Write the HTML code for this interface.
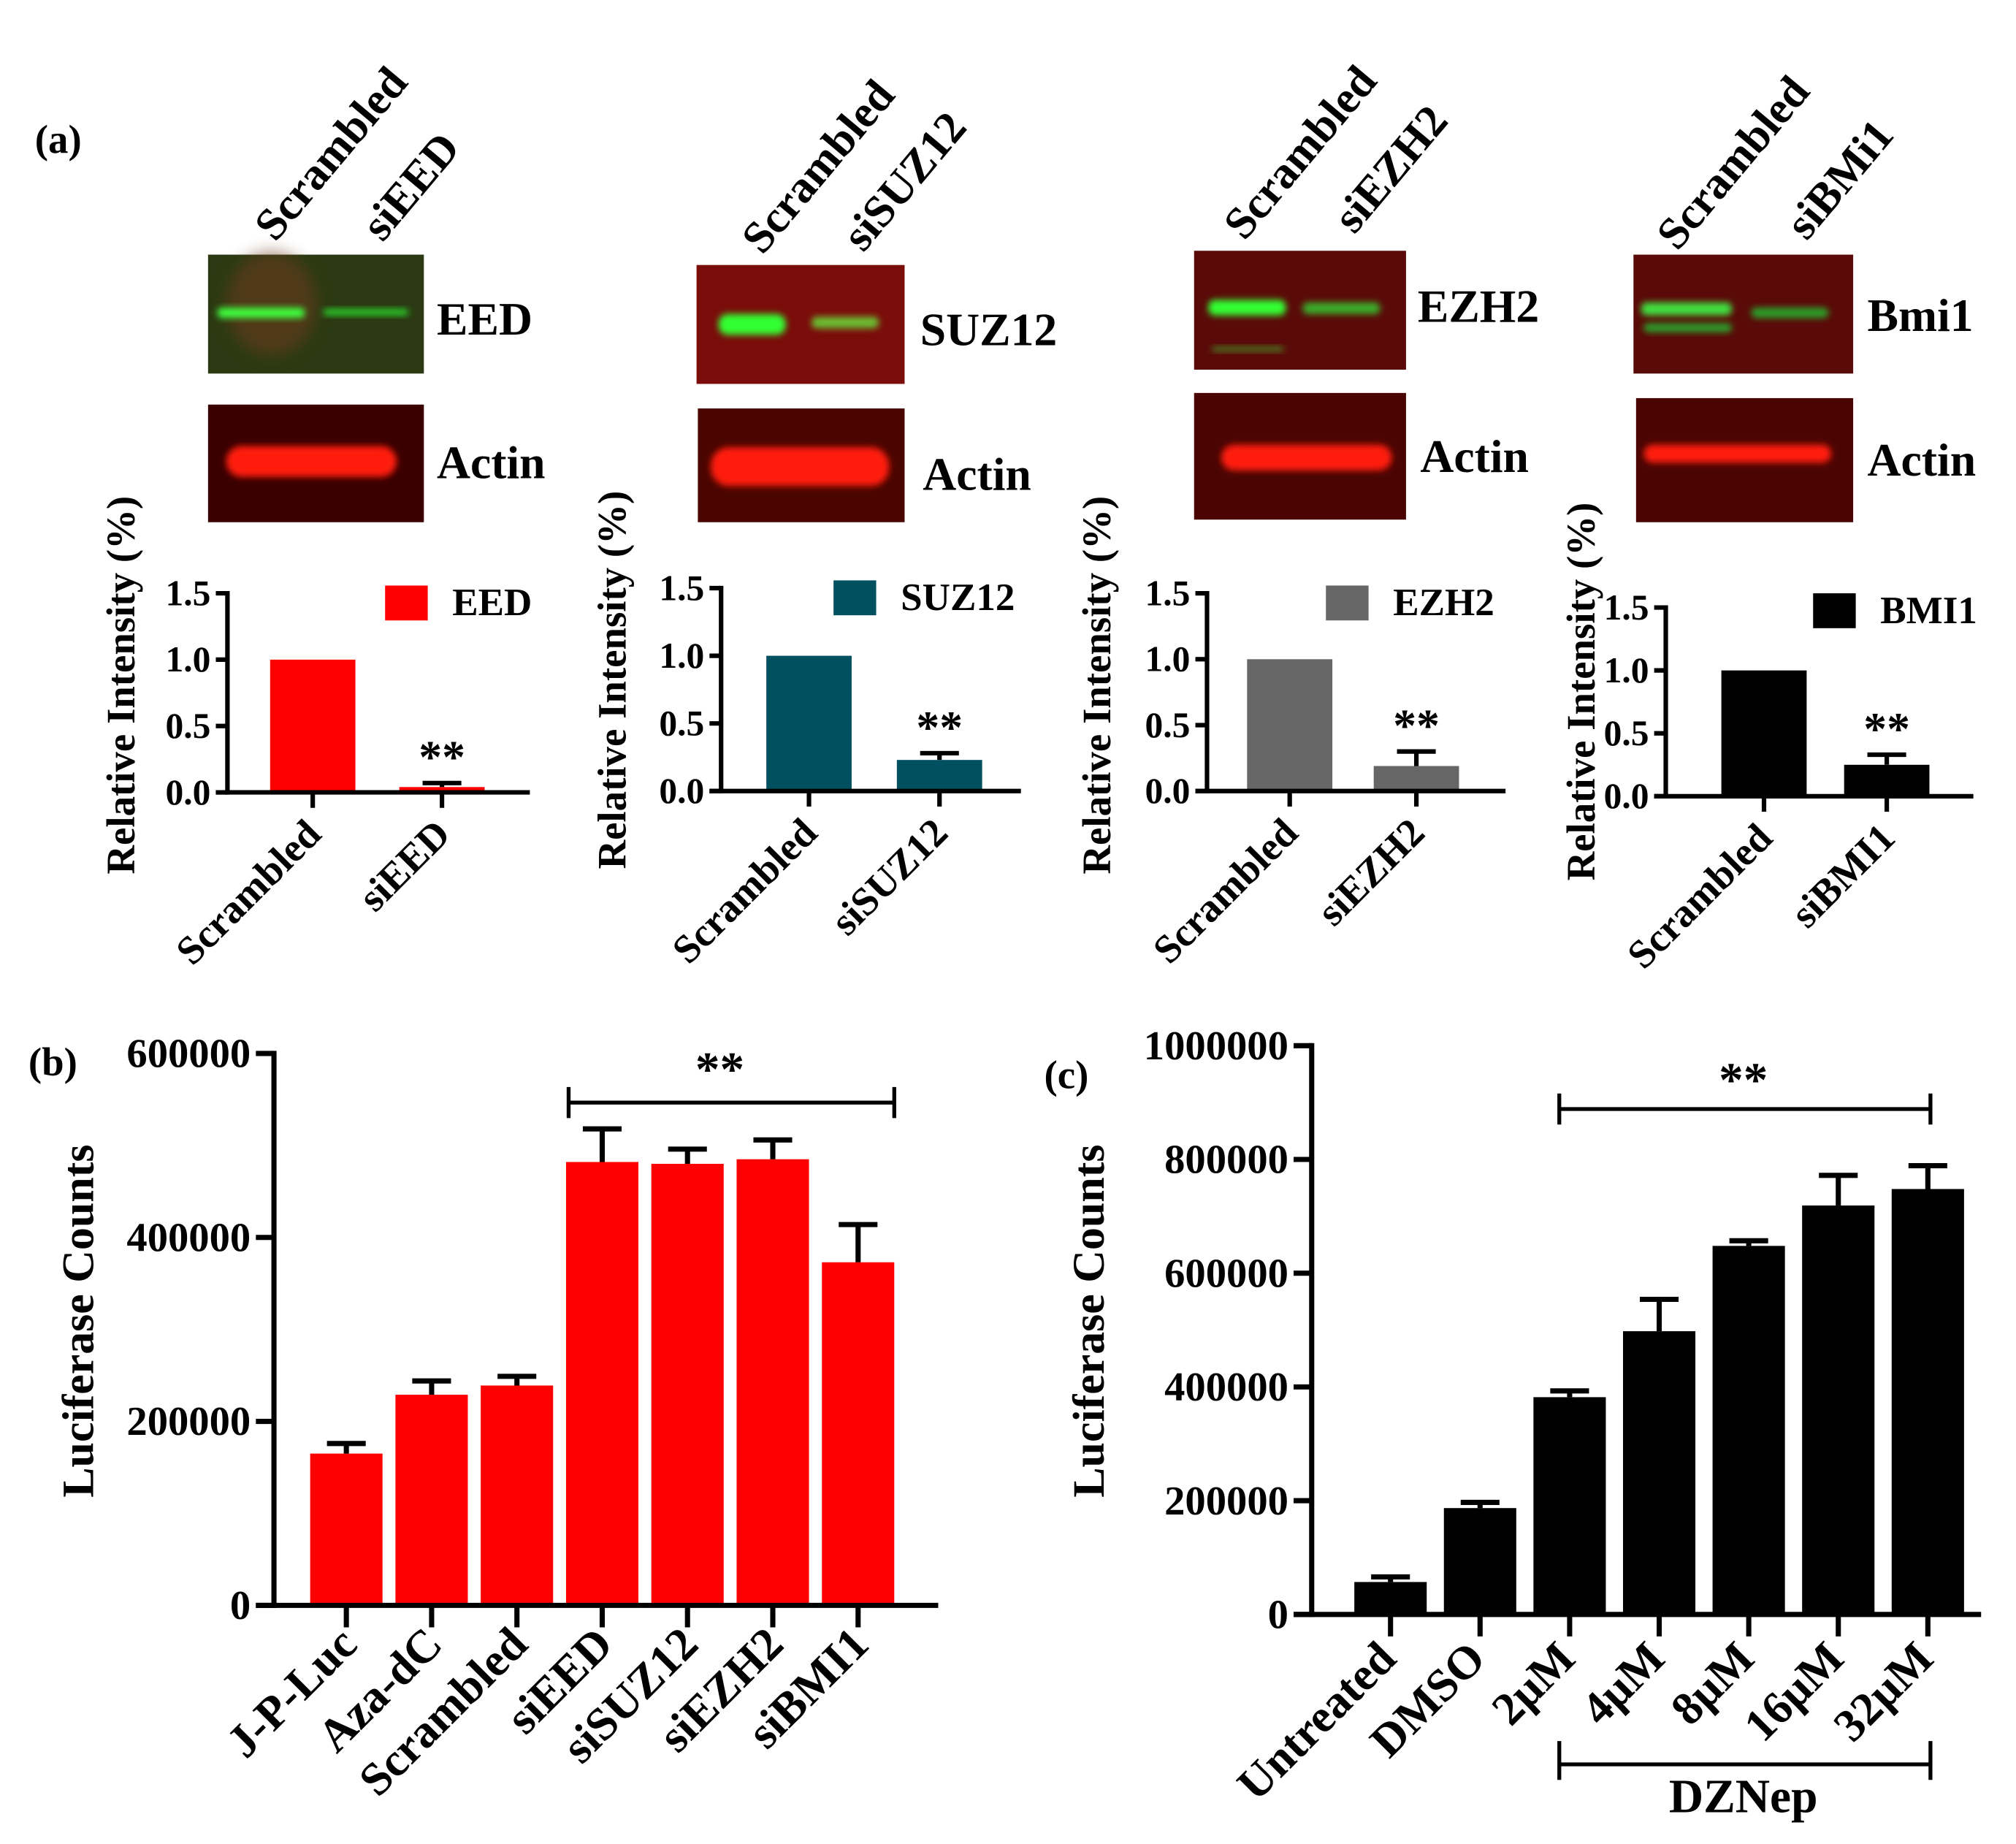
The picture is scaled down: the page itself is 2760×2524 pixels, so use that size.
<!DOCTYPE html>
<html><head><meta charset="utf-8">
<style>
html,body{margin:0;padding:0;background:#fff;}
svg{display:block;}
text{font-family:"Liberation Serif",serif;font-weight:bold;fill:#000;}
</style></head>
<body>
<svg id="fig" width="2760" height="2524" viewBox="0 0 1560 1426.6" xmlns="http://www.w3.org/2000/svg">
<defs>
<filter id="blur2" x="-20%" y="-50%" width="140%" height="200%"><feGaussianBlur stdDeviation="2.5"/></filter>
<filter id="blur5" x="-30%" y="-50%" width="160%" height="200%"><feGaussianBlur stdDeviation="6"/></filter>
</defs>
<text x="27" y="118" font-size="31">(a)</text>
<text x="22" y="832" font-size="31">(b)</text>
<text x="808" y="842" font-size="31">(c)</text>

<g>
<rect x="161" y="197" width="167" height="92" fill="#2b3a12"/>
<ellipse cx="210" cy="235" rx="35" ry="40" fill="#6a3a1a" opacity="0.6" filter="url(#blur5)"/>
<rect x="168" y="238" width="68" height="8" rx="4" fill="#3cff3c" filter="url(#blur2)"/>
<rect x="250" y="239" width="66" height="5" rx="3" fill="#2ad02a" filter="url(#blur2)"/>
</g>
<g>
<rect x="161" y="313" width="167" height="91" fill="#3a0000"/>
<rect x="175" y="345" width="132" height="24" rx="12" fill="#ff1a0a" filter="url(#blur2)"/>
</g>
<g>
<rect x="539" y="205" width="161" height="92" fill="#7a0c0a"/>
<rect x="556" y="243" width="52" height="16" rx="7" fill="#30ff30" filter="url(#blur2)"/>
<rect x="628" y="245" width="52" height="9" rx="4" fill="#6abf30" filter="url(#blur2)"/>
</g>
<g>
<rect x="540" y="316" width="160" height="88" fill="#4a0500"/>
<rect x="550" y="346" width="138" height="30" rx="14" fill="#ff1a0a" filter="url(#blur2)"/>
</g>
<g>
<rect x="924" y="194" width="164" height="92" fill="#5a0a08"/>
<rect x="935" y="232" width="60" height="12" rx="5" fill="#30ff30" filter="url(#blur2)"/>
<rect x="1008" y="234" width="60" height="9" rx="4" fill="#3aae2a" filter="url(#blur2)"/>
<rect x="938" y="268" width="55" height="4" fill="#4a7a20" filter="url(#blur2)"/>
</g>
<g>
<rect x="924" y="304" width="164" height="98" fill="#4a0503"/>
<rect x="945" y="344" width="132" height="20" rx="10" fill="#ff1a0a" filter="url(#blur2)"/>
</g>
<g>
<rect x="1264" y="197" width="170" height="92" fill="#5a0a08"/>
<rect x="1270" y="234" width="70" height="10" rx="4" fill="#40e040" filter="url(#blur2)"/>
<rect x="1272" y="250" width="68" height="7" rx="3" fill="#2ca02a" filter="url(#blur2)"/>
<rect x="1355" y="238" width="60" height="8" rx="4" fill="#2ca02a" filter="url(#blur2)"/>
</g>
<g>
<rect x="1266" y="308" width="168" height="96" fill="#4a0503"/>
<rect x="1272" y="344" width="145" height="14" rx="7" fill="#ff1a0a" filter="url(#blur2)"/>
</g>

<g font-size="36">
<text x="338" y="259">EED</text>
<text x="338" y="370">Actin</text>
<text x="712" y="267">SUZ12</text>
<text x="714" y="379">Actin</text>
<text x="1097" y="249">EZH2</text>
<text x="1099" y="365">Actin</text>
<text x="1445" y="256">Bmi1</text>
<text x="1445" y="368">Actin</text>
</g>
<g font-size="35">
<text transform="translate(213,188) rotate(-50)">Scrambled</text>
<text transform="translate(296,188) rotate(-50)">siEED</text>
<text transform="translate(590,198) rotate(-50)">Scrambled</text>
<text transform="translate(668,196) rotate(-50)">siSUZ12</text>
<text transform="translate(963,187) rotate(-50)">Scrambled</text>
<text transform="translate(1048,182) rotate(-50)">siEZH2</text>
<text transform="translate(1298,195) rotate(-50)">Scrambled</text>
<text transform="translate(1398,187) rotate(-50)">siBMi1</text>
</g>
<g id="charts"></g>
</svg>
<script>
// ---- Panel (a) data ----
const aCategories1 = ["Scrambled", "siEED"];
const aValues1 = [1.0, 0.04];
const aErrors1 = [0, 0.03];
const aCategories2 = ["Scrambled", "siSUZ12"];
const aValues2 = [1.0, 0.23];
const aErrors2 = [0, 0.05];
const aCategories3 = ["Scrambled", "siEZH2"];
const aValues3 = [1.0, 0.19];
const aErrors3 = [0, 0.11];
const aCategories4 = ["Scrambled", "siBMI1"];
const aValues4 = [1.0, 0.25];
const aErrors4 = [0, 0.08];
const aTicks = [0, 0.5, 1.0, 1.5];
const aTickLabels = ["0.0", "0.5", "1.0", "1.5"];
// ---- Panel (b) data ----
const bCategories = ["J-P-Luc", "Aza-dC", "Scrambled", "siEED", "siSUZ12", "siEZH2", "siBMI1"];
const bValues = [165000, 229000, 239000, 482000, 480000, 485000, 373000];
const bErrors = [11000, 15000, 10000, 36000, 16000, 21000, 41000];
const bTicks = [0, 200000, 400000, 600000];
const bTickLabels = ["0", "200000", "400000", "600000"];
// ---- Panel (c) data ----
const cCategories = ["Untreated", "DMSO", "2\u00b5M", "4\u00b5M", "8\u00b5M", "16\u00b5M", "32\u00b5M"];
const cValues = [57000, 187000, 382000, 498000, 648000, 719000, 748000];
const cErrors = [9000, 10000, 11000, 56000, 9000, 53000, 41000];
const cTicks = [0, 200000, 400000, 600000, 800000, 1000000];
const cTickLabels = ["0", "200000", "400000", "600000", "800000", "1000000"];

const NS = "http://www.w3.org/2000/svg";
const root = document.getElementById("charts");
function el(tag, attrs, parent, txt) {
  const e = document.createElementNS(NS, tag);
  for (const k in attrs) e.setAttribute(k, attrs[k]);
  if (txt !== undefined) e.textContent = txt;
  (parent || root).appendChild(e);
  return e;
}

function drawChart(cfg, cats, vals, errs, ticks, tickLabels) {
  const g = el("g", {});
  
  
  const yScale = v => cfg.y0 - (v - cfg.min) / (cfg.max - cfg.min) * (cfg.y0 - cfg.y1);
  const xScale = i => cfg.firstX + i * cfg.step;
  cats.forEach((c, i) => {
    const cx = xScale(i), top = yScale(vals[i]);
    const r = el("rect", {x: cx - cfg.barW / 2, y: top, width: cfg.barW, height: cfg.y0 - top, fill: cfg.color}, g);
    
    
    if (errs[i] > 0) {
      const et = yScale(vals[i] + errs[i]);
      const eb = el("path", {d: `M${cx} ${top} V${et} M${cx - cfg.capW / 2} ${et} H${cx + cfg.capW / 2}`, stroke: "#000", "stroke-width": cfg.lw, fill: "none"}, g);
      
      
    }
    const t = el("line", {x1: cx, x2: cx, y1: cfg.y0, y2: cfg.y0 + cfg.tickLen, stroke: "#000", "stroke-width": cfg.lw}, g);
    
    
    const lab = el("text", {"text-anchor": "end", "font-size": cfg.xfs, transform: `translate(${cx + cfg.xlDx},${cfg.y0 + cfg.xlDy}) rotate(-45)`}, g, c);
    
    
  });
  const ya = el("line", {x1: cfg.ax, x2: cfg.ax, y1: cfg.y1 - cfg.lw / 2, y2: cfg.y0 + cfg.lw / 2, stroke: "#000", "stroke-width": cfg.lw}, g);
  
  
  const xa = el("line", {x1: cfg.ax - (cfg.yTickLen || 0), x2: cfg.axEnd, y1: cfg.y0, y2: cfg.y0, stroke: "#000", "stroke-width": cfg.lw}, g);
  
  
  ticks.forEach((v, i) => {
    const y = yScale(v);
    const tk = el("line", {x1: cfg.ax - cfg.yTickLen, x2: cfg.ax, y1: y, y2: y, stroke: "#000", "stroke-width": cfg.lw}, g);
    
    
    const tl = el("text", {x: cfg.ax - cfg.yTickLen - 4, y: y + cfg.yfs * 0.33, "text-anchor": "end", "font-size": cfg.yfs}, g, tickLabels[i]);
    
    
  });
  const yt = el("text", {"text-anchor": "middle", "font-size": cfg.ytfs, transform: `translate(${cfg.ytX},${cfg.ytY}) rotate(-90)`}, g, cfg.yTitle);
  
  
  return {g, xScale, yScale};
}

function chartA(name, cats, vals, errs, color, L) {
  const cfg = {name, color, ax: L.ax, axEnd: L.axEnd, y0: L.y0, y1: L.y1, min: 0, max: 1.5,
    firstX: L.x0, step: L.step, barW: 66, capW: 30, lw: 3.5, tickLen: 12, yTickLen: 9,
    xfs: 31, yfs: 28, ytfs: 31, xlDx: 8, xlDy: 34, ytX: L.ytX, ytY: L.ytY, yTitle: "Relative Intensity (%)"};
  const c = drawChart(cfg, cats, vals, errs, aTicks, aTickLabels);
  const lg = el("rect", {x: L.lgX, y: L.lgY, width: 33, height: 27, fill: color}, c.g);
  
  
  const lt = el("text", {x: L.lgX + 52, y: L.lgY + 23, "font-size": 30}, c.g, L.lgText);
  
  
  const st = el("text", {x: c.xScale(1), y: c.yScale(vals[1] + errs[1]) - 8, "text-anchor": "middle", "font-size": 36}, c.g, "**");
  
  
}
chartA("chart-eed", aCategories1, aValues1, aErrors1, "#ff0000", {ax:176, axEnd:410, y0:613, y1:459, x0:242, step:100, ytX:104, ytY:530, lgX:298, lgY:453, lgText:"EED"});
chartA("chart-suz12", aCategories2, aValues2, aErrors2, "#00505f", {ax:558, axEnd:790, y0:612, y1:455, x0:626, step:101, ytX:484, ytY:526, lgX:645, lgY:449, lgText:"SUZ12"});
chartA("chart-ezh2", aCategories3, aValues3, aErrors3, "#666666", {ax:934, axEnd:1165, y0:612, y1:459, x0:998, step:98, ytX:859, ytY:530, lgX:1026, lgY:453, lgText:"EZH2"});
chartA("chart-bmi1", aCategories4, aValues4, aErrors4, "#000000", {ax:1289, axEnd:1527, y0:616, y1:470, x0:1365, step:95, ytX:1234, ytY:535, lgX:1403, lgY:459, lgText:"BMI1"});

function bracket(g, x1, x2, y, up, name) {
  const p = el("path", {d: `M${x1} ${y - up} V${y + (up ? 12 : 20)} M${x1} ${y} H${x2} M${x2} ${y - up} V${y + (up ? 12 : 20)}`, stroke: "#000", "stroke-width": 3, fill: "none"}, g);
  
  
}

const cb = drawChart({name: "chart-b-luciferase", color: "#ff0000", ax: 212, axEnd: 726, y0: 1242, y1: 815, min: 0, max: 600000,
  firstX: 268, step: 66, barW: 56, capW: 30, lw: 4, tickLen: 17, yTickLen: 14, xfs: 36, yfs: 32, ytfs: 35,
  xlDx: 10, xlDy: 32, ytX: 72, ytY: 1022, yTitle: "Luciferase Counts"}, bCategories, bValues, bErrors, bTicks, bTickLabels);
bracket(cb.g, cb.xScale(3) - 26, cb.xScale(6) + 28, 853, 12, "significance-bracket");
const sb = el("text", {x: 557, y: 840, "text-anchor": "middle", "font-size": 38}, cb.g, "**");



const cc = drawChart({name: "chart-c-luciferase", color: "#000000", ax: 1015, axEnd: 1533, y0: 1249, y1: 809, min: 0, max: 1000000,
  firstX: 1076, step: 69.3, barW: 56, capW: 30, lw: 4, tickLen: 17, yTickLen: 14, xfs: 36, yfs: 32, ytfs: 35,
  xlDx: 6, xlDy: 36, ytX: 854, ytY: 1022, yTitle: "Luciferase Counts"}, cCategories, cValues, cErrors, cTicks, cTickLabels);
bracket(cc.g, cc.xScale(2) - 8, cc.xScale(6) + 2, 858, 12, "significance-bracket");
const sc = el("text", {x: 1349, y: 848, "text-anchor": "middle", "font-size": 38}, cc.g, "**");


bracket(cc.g, cc.xScale(2) - 8, cc.xScale(6) + 2, 1365, 18, "dznep-bracket");
const dz = el("text", {x: 1349, y: 1402, "text-anchor": "middle", "font-size": 37}, cc.g, "DZNep");


</script>
</body></html>
